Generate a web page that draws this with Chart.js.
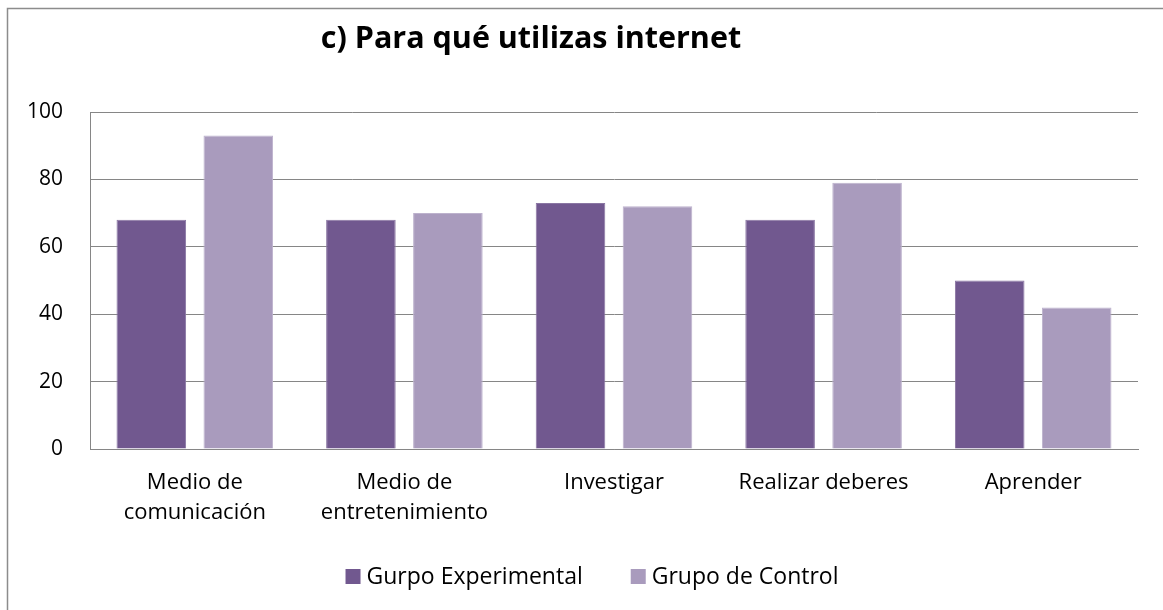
<!DOCTYPE html>
<html>
<head>
<meta charset="utf-8">
<script src="https://cdn.jsdelivr.net/npm/chart.js@4/dist/chart.umd.min.js"></script>
<style>
html,body{margin:0;padding:0;background:#fff;}
#wrap{position:relative;width:1163px;height:610px;}
</style>
</head>
<body>
<div id="wrap"><canvas id="c" width="1163" height="610"></canvas></div>
<script>
const categories = [['Medio de','comunicación'], ['Medio de','entretenimiento'], 'Investigar', 'Realizar deberes', 'Aprender'];
const seriesNames = ['Gurpo Experimental', 'Grupo de Control'];
const experimental = [68, 68, 73, 68, 50];
const control = [93, 70, 72, 79, 42];
const titleText = 'c) Para qué utilizas internet';
const FONT = '"Open Sans", sans-serif';
const colors = ['#71588F', '#A99BBD'];

const framePlugin = {
  id: 'frame',
  beforeDraw(chart) {
    const ctx = chart.ctx;
    ctx.save();
    ctx.fillStyle = '#fff';
    ctx.fillRect(0, 0, chart.width, chart.height);
    ctx.strokeStyle = '#8c8c8c';
    ctx.lineWidth = 1.5;
    ctx.beginPath();
    ctx.moveTo(7.5, chart.height);
    ctx.lineTo(7.5, 8.5);
    ctx.lineTo(chart.width, 8.5);
    ctx.stroke();
    ctx.restore();
  },
  afterDraw(chart) {
    const ctx = chart.ctx;
    ctx.save();
    // title
    ctx.fillStyle = '#000';
    ctx.font = 'bold 30.5px ' + FONT;
    ctx.textAlign = 'center';
    ctx.textBaseline = 'alphabetic';
    ctx.fillText(titleText, 531, 48);
    // legend
    ctx.font = '23px ' + FONT;
    ctx.textAlign = 'left';
    const box = 15, gapText = 6, gapItem = 48;
    const ds = chart.data.datasets;
    const widths = ds.map(d => box + gapText + ctx.measureText(d.label).width);
    const total = widths.reduce((a, b) => a + b, 0) + gapItem * (ds.length - 1);
    let x = 592 - total / 2;
    const cy = 576.5;
    ds.forEach((d, i) => {
      ctx.fillStyle = d.backgroundColor;
      ctx.fillRect(x, cy - box / 2, box, box);
      ctx.fillStyle = '#000';
      ctx.textBaseline = 'middle';
      ctx.fillText(d.label, x + box + gapText, cy + 1);
      x += widths[i] + gapItem;
    });
    ctx.restore();
  }
};

new Chart(document.getElementById('c'), {
  type: 'bar',
  data: {
    labels: categories,
    datasets: [
      { label: seriesNames[0], data: experimental, backgroundColor: colors[0], borderColor: '#8a76a3', borderWidth: 1 },
      { label: seriesNames[1], data: control, backgroundColor: colors[1], borderColor: '#bdb2cd', borderWidth: 1 }
    ]
  },
  options: {
    responsive: false,
    animation: false,
    devicePixelRatio: 1,
    categoryPercentage: 0.83,
    barPercentage: 0.8,
    layout: { padding: { left: 0, right: 25, top: 112, bottom: 51 } },
    plugins: {
      title: { display: false },
      tooltip: { enabled: false },
      legend: { display: false }
    },
    scales: {
      x: {
        grid: { display: false, drawTicks: false },
        border: { display: true, color: '#868686', width: 1 },
        ticks: { font: { family: FONT, size: 22, lineHeight: 1.35 }, color: '#000', padding: 19, maxRotation: 0, autoSkip: false },
        afterFit(scale) { scale.height = 110; }
      },
      y: {
        min: 0, max: 100,
        ticks: { stepSize: 20, font: { family: FONT, size: 21 }, color: '#000', padding: 27 },
        grid: { color: '#868686', lineWidth: 1, drawTicks: false },
        border: { display: true, color: '#868686', width: 1 },
        afterFit(scale) { scale.width = 90; }
      }
    }
  },
  plugins: [framePlugin]
});
</script>
</body>
</html>
